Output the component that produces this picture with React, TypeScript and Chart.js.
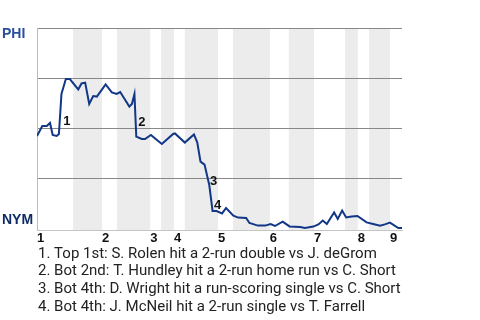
import React, { useEffect, useRef } from "react";
import { Chart, registerables } from "chart.js";

Chart.register(...registerables);

// Game progress (0..100, share of the game's events) and Phillies win probability (%)
const progress = [
  0, 1.45, 2.66, 3.56, 4.3, 5.4, 6.0, 6.7, 7.9, 9.0,
  11.3, 12.2, 13.2, 14.3, 15.4, 16.4, 18.8, 20.5, 21.8, 22.8,
  25.3, 26.0, 26.7, 27.2, 28.7, 29.6, 31.2, 34.2, 37.3, 37.8,
  40.5, 43.0, 43.9, 44.8, 45.9, 47.2, 48.1, 49.2, 50.7, 51.8,
  53.8, 55.1, 57.3, 58.2, 60.5, 62.5, 64.0, 65.2, 67.3, 69.2,
  72.1, 73.4, 75.7, 77.1, 78.3, 79.4, 81.4, 82.4, 83.6, 84.7,
  86.2, 87.8, 90.3, 92.1, 94.0, 95.3, 96.7, 99.0, 100,
];
const phiWinPct = [
  46, 51, 51, 52.5, 46.5, 46, 47, 67, 74.5, 74.5,
  69.3, 72.3, 72.7, 62, 66, 65.7, 71.8, 67.8, 67, 68,
  60.7, 62, 67, 45.7, 44.5, 44.5, 46.5, 42, 47, 47.3,
  42.7, 46.8, 42.8, 33.2, 31.7, 21.5, 8.5, 8.5, 7.3, 10,
  6.2, 5.2, 5, 2.5, 1.2, 1.2, 2, 1, 3.2, 0.8,
  0.5, 0, 0.7, 1.8, 3.7, 2, 7.8, 4.5, 8.7, 5.3,
  5.7, 6, 2.8, 2, 1.2, 1.8, 2.7, 0, 0,
];

// Half-inning boundaries (same progress units)
const topHalfStarts = [0, 17.8, 31.0, 37.5, 49.6, 63.8, 75.9, 87.9, 96.7];
const bottomHalves = [
  [9.9, 17.8], [21.9, 31.0], [34.0, 37.5], [40.5, 49.6],
  [53.7, 63.8], [69.0, 75.9], [84.4, 87.9], [91.0, 96.7],
];
const inningLabels = ["1", "2", "3", "4", "5", "6", "7", "8", "9"];

// Key events: index of the point right after the event
const keyEventPoints = [7, 23, 35, 36];
const keyEventLabels = ["1", "2", "3", "4"];
const keyEventNotes = [
  "1. Top 1st: S. Rolen hit a 2-run double vs J. deGrom",
  "2. Bot 2nd: T. Hundley hit a 2-run home run vs C. Short",
  "3. Bot 4th: D. Wright hit a run-scoring single vs C. Short",
  "4. Bot 4th: J. McNeil hit a 2-run single vs T. Farrell",
];
const teamTop = "PHI";
const teamBottom = "NYM";
const gridValues = [25, 50, 75, 100];

const FONT = "Roboto, 'Noto Sans', Arial, sans-serif";
const BOLD_FONT = "'Liberation Sans', Arial, sans-serif";

const decorPlugin = {
  id: "decor",
  beforeDraw(chart: any) {
    const { ctx, chartArea, scales } = chart;
    ctx.save();
    ctx.fillStyle = "#ffffff";
    ctx.fillRect(0, 0, chart.width, chart.height);
    ctx.fillStyle = "#ececec";
    for (const [a, b] of bottomHalves) {
      const x1 = scales.x.getPixelForValue(a);
      const x2 = scales.x.getPixelForValue(b);
      ctx.fillRect(x1, chartArea.top, x2 - x1, chartArea.bottom - chartArea.top);
    }
    ctx.restore();
  },
  afterDraw(chart: any) {
    const { ctx, scales } = chart;
    ctx.save();
    // key event numbers
    ctx.font = `bold 13px ${BOLD_FONT}`;
    ctx.fillStyle = "#111111";
    ctx.textAlign = "left";
    ctx.textBaseline = "middle";
    keyEventPoints.forEach((idx, i) => {
      const xa = scales.x.getPixelForValue(progress[idx - 1]);
      const xb = scales.x.getPixelForValue(progress[idx]);
      const ya = scales.y.getPixelForValue(phiWinPct[idx - 1]);
      const yb = scales.y.getPixelForValue(phiWinPct[idx]);
      ctx.fillText(keyEventLabels[i], (xa + xb) / 2 + 3, (ya + yb) / 2 + 7);
    });
    // team labels
    ctx.font = `bold 14px ${BOLD_FONT}`;
    ctx.fillStyle = "#2a4f9f";
    ctx.fillText(teamTop, 2, 34);
    ctx.fillStyle = "#0d2b66";
    ctx.fillText(teamBottom, 2, 220);
    // notes
    ctx.font = `15px ${FONT}`;
    ctx.fillStyle = "#222222";
    ctx.textBaseline = "alphabetic";
    keyEventNotes.forEach((t, i) => {
      ctx.fillText(t, 38, 257.5 + i * 17.9);
    });
    ctx.restore();
  },
};

export default function App() {
  const ref = useRef<HTMLCanvasElement>(null);
  useEffect(() => {
    if (!ref.current) return;
    const chart = new Chart(ref.current, {
      type: "line",
      data: {
        datasets: [
          {
            data: progress.map((x, i) => ({ x, y: phiWinPct[i] })),
            borderColor: "#123787",
            borderWidth: 2,
            pointRadius: 0,
            tension: 0,
            fill: false,
          },
        ],
      },
      options: {
        animation: false,
        responsive: false,
        events: [],
        layout: { padding: { left: 37, top: 28, right: 78, bottom: 70 } },
        plugins: { legend: { display: false }, tooltip: { enabled: false } },
        scales: {
          x: {
            type: "linear",
            min: 0,
            max: 100,
            afterBuildTicks: (s: any) => {
              s.ticks = topHalfStarts.map((v) => ({ value: v }));
            },
            afterFit: (s: any) => {
              s.height = 20;
            },
            grid: { display: false, drawTicks: false },
            border: { display: true, color: "#c4c4c4", width: 1 },
            ticks: {
              autoSkip: false,
              maxRotation: 0,
              align: "start",
              padding: 1,
              color: "#111111",
              font: { family: BOLD_FONT, size: 13, weight: "bold" },
              callback: (_v: any, i: number) => inningLabels[i],
            },
          },
          y: {
            type: "linear",
            min: -1,
            max: 100,
            afterBuildTicks: (s: any) => {
              s.ticks = gridValues.map((v) => ({ value: v }));
            },
            afterFit: (s: any) => {
              s.width = 0;
            },
            grid: { color: "#888888", lineWidth: 1, drawTicks: false },
            border: { display: true, color: "#bbbbbb", width: 1 },
            ticks: { display: false },
          },
        },
      },
      plugins: [decorPlugin],
    });
    return () => chart.destroy();
  }, []);
  return (
    <div style={{ position: "fixed", left: 0, top: 0, width: 480, height: 320, background: "#fff" }}>
      <canvas ref={ref} width={480} height={320} style={{ width: 480, height: 320, display: "block" }} />
    </div>
  );
}
